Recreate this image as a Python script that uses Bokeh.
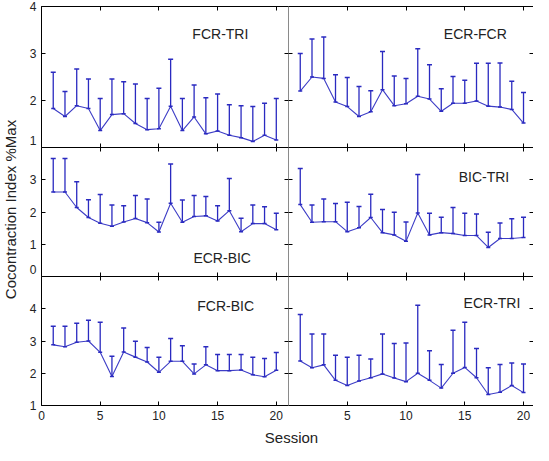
import math
from bokeh.plotting import figure
from bokeh.layouts import row, column
from bokeh.models import Range1d, LinearAxis, FixedTicker, ColumnDataSource, Label
from bokeh.embed import file_html
from bokeh.resources import INLINE

# ---------------- data ----------------
sessions = list(range(1, 21))

fcr_tri_mean = [1.83, 1.66, 1.89, 1.83, 1.36, 1.70, 1.72, 1.51, 1.38, 1.40,
                1.88, 1.36, 1.65, 1.29, 1.35, 1.26, 1.21, 1.13, 1.26, 1.16]
fcr_tri_upper = [2.60, 2.19, 2.67, 2.46, 2.04, 2.46, 2.40, 2.35, 2.04, 2.26,
                 2.88, 2.04, 2.33, 2.06, 2.14, 1.91, 1.89, 1.87, 1.94, 2.04]

ecr_fcr_mean = [2.20, 2.50, 2.47, 1.97, 1.87, 1.66, 1.76, 2.23, 1.89, 1.93,
                2.09, 2.03, 1.77, 1.94, 1.94, 1.99, 1.88, 1.86, 1.81, 1.52]
ecr_fcr_upper = [3.00, 3.31, 3.35, 2.55, 2.49, 2.30, 2.21, 3.04, 2.52, 2.47,
                 3.10, 2.76, 2.25, 2.51, 2.43, 2.79, 2.79, 2.80, 2.41, 2.17]

ecr_bic_mean = [2.62, 2.62, 2.14, 1.83, 1.65, 1.56, 1.69, 1.80, 1.67, 1.38,
                2.27, 1.68, 1.86, 1.88, 1.72, 2.04, 1.39, 1.64, 1.64, 1.45]
ecr_bic_upper = [3.66, 3.66, 2.94, 2.38, 2.54, 2.22, 2.19, 2.51, 2.40, 1.68,
                 3.49, 2.37, 2.51, 2.48, 2.19, 3.04, 1.81, 2.22, 2.16, 1.96]

bic_tri_mean = [2.23, 1.68, 1.70, 1.70, 1.39, 1.51, 1.83, 1.36, 1.29, 1.09,
                1.97, 1.29, 1.36, 1.33, 1.27, 1.27, 0.90, 1.18, 1.18, 1.21]
bic_tri_upper = [3.35, 2.22, 2.40, 2.26, 2.30, 2.17, 2.55, 2.08, 1.99, 1.69,
                 3.16, 1.96, 1.84, 2.14, 1.96, 1.94, 1.37, 1.66, 1.79, 1.84]

fcr_bic_mean = [2.88, 2.82, 2.96, 3.00, 2.65, 1.90, 2.66, 2.50, 2.35, 2.03,
                2.37, 2.37, 1.98, 2.26, 2.08, 2.08, 2.10, 1.95, 1.89, 2.09]
fcr_bic_upper = [3.46, 3.46, 3.55, 3.64, 3.58, 2.53, 3.40, 2.99, 2.80, 2.50,
                 3.08, 2.85, 2.29, 2.82, 2.58, 2.58, 2.58, 2.50, 2.46, 2.64]

ecr_tri_mean = [2.38, 2.17, 2.26, 1.78, 1.62, 1.76, 1.86, 1.98, 1.85, 1.74,
                2.00, 1.78, 1.54, 2.00, 2.18, 1.86, 1.34, 1.41, 1.62, 1.40]
ecr_tri_upper = [3.82, 3.22, 3.22, 2.56, 2.50, 2.56, 2.44, 3.22, 2.92, 2.94,
                 4.11, 2.70, 2.27, 3.33, 3.58, 2.77, 2.17, 2.27, 2.32, 2.29]

x_ticks_left = [0, 5, 10, 15, 20]
x_ticks_right = [5, 10, 15, 20]
y_ticks_top = [1, 2, 3, 4]
y_ticks_mid = [0, 1, 2, 3, 4]
y_ticks_bot = [1, 2, 3, 4, 5]
# tick labels of each left panel; the label sitting on a shared panel edge
# is lifted a little so that it stays whole inside its own panel
y_labels_top = {1.15: "1", 2: "2", 3: "3", 4: "4"}
y_labels_mid = {0.22: "0", 1: "1", 2: "2", 3: "3"}
y_labels_bot = {1: "1", 2: "2", 3: "3", 4: "4"}

y_label_text = "Cocontraction Index %Max"
x_label_text = "Session"

# ---------------- styles / layout ----------------
BAR = "#2a2ac0"
LINE = "#3d3dc6"
TXT = "#222222"
FONT = "Liberation Sans"

YLAB_W = 21
LEFT_BORDER = 20
LEFT_FW = 247
RIGHT_FW = 245
TOP_BORDER = 6
ROW_FH = [141, 129, 129]
BOTTOM_BORDER = 20
XLAB_H = 20
X_END_LEFT = 21.04
X_END_RIGHT = 20.85


def add_axis(p, side, ticks, labels=False, line_color="black", tick_color="black",
             overrides=None):
    ax = LinearAxis(ticker=FixedTicker(ticks=ticks))
    ax.major_tick_in = 4
    ax.major_tick_out = 0
    ax.minor_tick_line_color = None
    ax.major_tick_line_color = tick_color
    ax.axis_line_color = line_color
    if labels:
        ax.major_label_text_font_size = "12px"
        ax.major_label_text_font = FONT
        ax.major_label_text_color = TXT
        ax.major_label_standoff = 5
        if overrides:
            ax.major_label_overrides = overrides
    else:
        ax.major_label_text_font_size = "0px"
        ax.major_label_text_color = None
        ax.major_label_standoff = 0
    p.add_layout(ax, side)
    return ax


def make_panel(mean, upper, title, tx, ty, yr, yticks, ylabels, col, rowi):
    left = col == 0
    fw = LEFT_FW if left else RIGHT_FW
    fh = ROW_FH[rowi]
    bl = LEFT_BORDER if left else 0
    bt = TOP_BORDER if rowi == 0 else 0
    bb = BOTTOM_BORDER if rowi == 2 else 0
    xend = X_END_LEFT if left else X_END_RIGHT
    p = figure(width=fw + bl, height=fh + bt + bb,
               x_range=Range1d(0, xend), y_range=Range1d(*yr),
               output_backend="svg", toolbar_location=None,
               x_axis_location=None, y_axis_location=None,
               min_border_left=bl, min_border_right=0,
               min_border_top=bt, min_border_bottom=bb)
    p.outline_line_color = None
    p.grid.visible = False
    p.background_fill_color = "white"
    p.border_fill_color = "white"

    xt = x_ticks_left if left else x_ticks_right
    add_axis(p, "above", xt, line_color="black")
    add_axis(p, "below", xt, labels=(rowi == 2),
             line_color="black" if rowi == 2 else None)
    if left:
        # inner axis: frame line and inward tick marks
        add_axis(p, "left", yticks, line_color="black")
        # outer axis: the tick labels only
        pos = sorted(ylabels.keys())
        add_axis(p, "left", pos, labels=True, line_color=None, tick_color=None,
                 overrides={k: ylabels[k] for k in pos})
        add_axis(p, "right", yticks, line_color="#8a8a8a")
    else:
        add_axis(p, "left", yticks, line_color="#8a8a8a")
        add_axis(p, "right", yticks, line_color=None)

    src = ColumnDataSource(dict(x=sessions, m=mean, u=upper))
    p.line("x", "m", source=src, line_color=LINE, line_width=1.1)
    p.segment(x0="x", y0="m", x1="x", y1="u", source=src,
              line_color=BAR, line_width=1.3)
    p.scatter("x", "u", source=src, marker="dash", size=5,
              line_color=BAR, line_width=1.5)
    p.scatter("x", "m", source=src, marker="dash", size=4,
              line_color=BAR, line_width=1.5)

    p.add_layout(Label(x=tx, y=ty, text=title, text_font=FONT,
                       text_font_size="14px", text_color=TXT,
                       text_align="left", text_baseline="alphabetic"))
    return p


f1 = make_panel(fcr_tri_mean, fcr_tri_upper, "FCR-TRI", 12.85, 3.41, (1, 4),
                y_ticks_top, y_labels_top, 0, 0)
f2 = make_panel(ecr_fcr_mean, ecr_fcr_upper, "ECR-FCR", 13.22, 3.41, (1, 4),
                y_ticks_top, None, 1, 0)
f3 = make_panel(ecr_bic_mean, ecr_bic_upper, "ECR-BIC", 12.94, 0.58, (0, 4),
                y_ticks_mid, y_labels_mid, 0, 1)
f4 = make_panel(bic_tri_mean, bic_tri_upper, "BIC-TRI", 14.48, 3.09, (0, 4),
                y_ticks_mid, None, 1, 1)
f5 = make_panel(fcr_bic_mean, fcr_bic_upper, "FCR-BIC", 13.27, 4.08, (1, 5),
                y_ticks_bot, y_labels_bot, 0, 2)
f6 = make_panel(ecr_tri_mean, ecr_tri_upper, "ECR-TRI", 14.90, 4.18, (1, 5),
                y_ticks_bot, None, 1, 2)

grid_w = LEFT_BORDER + LEFT_FW + RIGHT_FW
total_h = TOP_BORDER + sum(ROW_FH) + BOTTOM_BORDER + XLAB_H

ylab = figure(width=YLAB_W, height=total_h, x_range=Range1d(0, 1), y_range=Range1d(0, 1),
              output_backend="svg", toolbar_location=None,
              x_axis_location=None, y_axis_location=None, min_border=0)
ylab.outline_line_color = None
ylab.grid.visible = False
ylab.add_layout(Label(x=10, y=total_h - 209, x_units="screen", y_units="screen",
                      text=y_label_text, angle=math.pi / 2, text_font=FONT,
                      text_font_size="15px", text_color=TXT,
                      text_align="center", text_baseline="middle"))

xlab = figure(width=grid_w, height=XLAB_H, x_range=Range1d(0, 1), y_range=Range1d(0, 1),
              output_backend="svg", toolbar_location=None,
              x_axis_location=None, y_axis_location=None, min_border=0)
xlab.outline_line_color = None
xlab.grid.visible = False
xlab.add_layout(Label(x=270, y=8, x_units="screen", y_units="screen",
                      text=x_label_text, text_font=FONT,
                      text_font_size="15px", text_color=TXT,
                      text_align="center", text_baseline="middle"))

p = row(ylab, column(row(f1, f2), row(f3, f4), row(f5, f6), xlab))

open("out.html", "w").write(file_html(p, INLINE))
